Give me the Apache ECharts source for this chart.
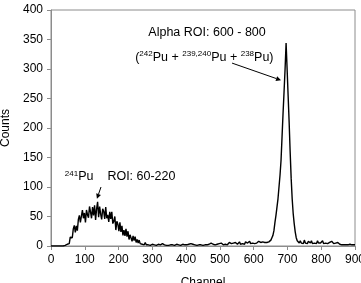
<!DOCTYPE html>
<html><head><meta charset="utf-8">
<script src="https://cdn.jsdelivr.net/npm/echarts@6/dist/echarts.min.js"></script>
<style>html,body{margin:0;padding:0;background:#fff}#c{width:361px;height:283px}</style>
</head><body><div id="c"></div>
<script>
const step = 3; // channel spacing of the counts below
const counts = [
// 0..48
0,0,0,0,0,0,0,0,0,0,0,0,0,1,1,2,3,
// 51..297
5,4,15,14,14,29,35,23,34,26,
45,52,40,37,61,47,56,40,61,53,
48,67,58,47,66,52,69,44,63,75,
49,67,54,45,63,59,46,66,47,53,
41,58,46,58,38,42,50,27,42,37,
25,40,24,34,18,27,17,29,16,25,
11,19,20,8,17,9,16,6,11,5,
10,4,7,3,5,2,6,2,4,2,
3,1,2,
// 300..399
3,1,2,4,1,2,3,1,2,2, 4,1,2,3,1,2,1,3,2,1, 2,4,1,2,3,1,2,3,1,2, 3,1,2,2,
// 402..498
2,1,3,2,4,1,3,2,2,4, 1,3,2,4,2,3,1,4,2,3, 2,4,3,2,5,2,3,4,2,5, 3,2,4,
// 501..597
2,5,3,2,4,3,5,2,4,6, 3,4,2,5,3,6,4,3,5,7, 3,5,4,6,3,7,4,5,3,8, 4,6,5,
// 600..699
6,4,7,5,4,8,5,6,4,7,5,6,8,6,9,7,
9,10,14,18,26,40,52,66,80,100,120,145,185,225,262,300,344,300,
// 702..798
255,210,160,115,80,55,38,24,14,9,6,
5,9,5,7,4,10,5,7,4,8,6,5,9,4,7,5,8,4,9,5,6,5,
// 801..900
5,9,4,6,5,8,4,7,6,4, 8,5,4,7,5,3,6,4,3,4, 2,3,2,3,2,3,2,2,3,2, 2,3,2,2
];
const channels = counts.map((_, i) => i * step);
const xTicks = [0,100,200,300,400,500,600,700,800,900];
const yTicks = [0,50,100,150,200,250,300,350,400];
const xName = 'Channel', yName = 'Counts';

const chart = echarts.init(document.getElementById('c'), null, {renderer:'canvas'});
const F = 'Liberation Sans, Arial, sans-serif';
const axisGray = '#8c8c8c';
const option = {
  animation:false,
  grid:{left:51,right:6,top:10,bottom:37,containLabel:false,outerBoundsMode:'none',
    show:true,borderColor:axisGray,borderWidth:1},
  xAxis:{type:'value',min:xTicks[0],max:xTicks[xTicks.length-1],interval:100,
    name:xName,nameLocation:'middle',nameGap:31,
    nameTextStyle:{fontFamily:F,fontSize:12,color:'#000'},
    axisLine:{lineStyle:{color:axisGray}},axisTick:{length:4,lineStyle:{color:axisGray}},
    axisLabel:{fontFamily:F,fontSize:12,color:'#000',margin:8,showMaxLabel:true},splitLine:{show:false}},
  yAxis:{type:'value',min:yTicks[0],max:yTicks[yTicks.length-1],interval:50,
    name:yName,nameLocation:'middle',nameGap:38,
    nameTextStyle:{fontFamily:F,fontSize:12,color:'#000'},
    axisLine:{show:true,lineStyle:{color:axisGray}},axisTick:{show:true,length:4,lineStyle:{color:axisGray}},
    axisLabel:{fontFamily:F,fontSize:12,color:'#000',margin:8},splitLine:{show:false}},
  series:[{type:'line',data:channels.map((c,i)=>[c,counts[i]]),showSymbol:false,
    lineStyle:{color:'#000',width:1.4},itemStyle:{color:'#000'}}]
};
chart.setOption(option);

function px(p){return chart.convertToPixel({gridIndex:0}, p);}
function arrow(from, to){
  const a = px(from), b = px(to);
  const dx=b[0]-a[0], dy=b[1]-a[1], L=Math.hypot(dx,dy), ux=dx/L, uy=dy/L;
  const hl=5, hw=2.5;
  const bx=b[0]-ux*hl, by=b[1]-uy*hl;
  return [
    {type:'line',shape:{x1:a[0],y1:a[1],x2:bx,y2:by},style:{stroke:'#000',lineWidth:1},z:10},
    {type:'polygon',shape:{points:[[b[0],b[1]],[bx-uy*hw,by+ux*hw],[bx+uy*hw,by-ux*hw]]},style:{fill:'#000'},z:10}
  ];
}
const sup = {fontSize:8,fontFamily:F,color:'#000',verticalAlign:'top',lineHeight:14};
const nrm = {fontSize:12.5,fontFamily:F,color:'#000',lineHeight:14};
const p1 = px([462,361]), p2 = px([454,320]), p3 = px([41,117]);
const graphic = [
  {type:'text',x:p1[0],y:p1[1],style:{text:'Alpha ROI: 600 - 800',font:'12.5px '+F,fill:'#000',align:'center',verticalAlign:'middle'},z:10},
  {type:'text',x:p2[0],y:p2[1],style:{text:'{n|(}{s|242}{n|Pu + }{s|239,240}{n|Pu + }{s|238}{n|Pu)}',align:'center',verticalAlign:'middle',rich:{n:nrm,s:sup}},z:10},
  {type:'text',x:p3[0],y:p3[1],style:{text:'{s|241}{n|Pu    ROI: 60-220}',align:'left',verticalAlign:'middle',rich:{n:nrm,s:sup}},z:10},
  ...arrow([536,310],[681,281]),
  ...arrow([148,100],[136,80])
];
chart.setOption({graphic});
</script></body></html>
